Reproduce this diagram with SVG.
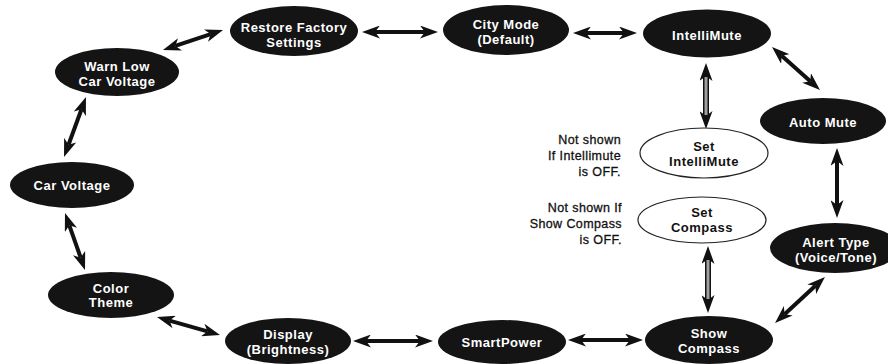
<svg xmlns="http://www.w3.org/2000/svg" width="888" height="364" viewBox="0 0 888 364">
<defs>
<style>
.node ellipse{fill:#141414;}
.node text{fill:#fff;font-family:"Liberation Sans",Arial,sans-serif;font-weight:bold;font-size:13px;letter-spacing:0.5px;text-anchor:middle;}
.opt ellipse{fill:#fff;stroke:#222;stroke-width:1.2;}
.opt text{fill:#111;font-family:"Liberation Sans",Arial,sans-serif;font-weight:bold;font-size:13px;letter-spacing:0.5px;text-anchor:middle;}
.note{fill:#111;stroke:#111;stroke-width:0.3;font-family:"Liberation Sans",Arial,sans-serif;font-size:12.5px;letter-spacing:0.4px;text-anchor:end;}
.c{stroke:#111;stroke-width:4;fill:none;marker-start:url(#ah);marker-end:url(#ah);}
.cg{stroke:#111;stroke-width:6;fill:none;marker-start:url(#ah);marker-end:url(#ah);}
.cgi{stroke:#a0a0a0;stroke-width:3;fill:none;}
</style>
<marker id="ah" viewBox="0 0 18 13" refX="5" refY="6.5" markerWidth="18" markerHeight="13" markerUnits="userSpaceOnUse" orient="auto-start-reverse">
<path d="M0,0 L18,6.5 L0,13 L5,6.5 z" fill="#111"/>
</marker>
</defs>

<g id="connectors">
<line class="c" x1="175.3" y1="45.9" x2="210.7" y2="34.1"/>
<line class="c" x1="375" y1="32" x2="425" y2="32"/>
<line class="c" x1="586" y1="33" x2="624" y2="33"/>
<line class="c" x1="781.7" y1="55.7" x2="810.3" y2="81.3"/>
<line class="cg" x1="706" y1="76" x2="706" y2="116"/>
<line class="cgi" x1="706" y1="77" x2="706" y2="115"/>
<line class="c" x1="837" y1="161" x2="837" y2="205"/>
<line class="c" x1="815.4" y1="285.8" x2="784.6" y2="314.2"/>
<line class="cg" x1="708" y1="259" x2="708" y2="300"/>
<line class="cgi" x1="708" y1="260" x2="708" y2="299"/>
<line class="c" x1="581" y1="340" x2="630" y2="340"/>
<line class="c" x1="366" y1="341" x2="420" y2="341"/>
<line class="c" x1="169.5" y1="320.6" x2="207.5" y2="331.4"/>
<line class="c" x1="69.3" y1="225.3" x2="80.7" y2="257.7"/>
<line class="c" x1="81.5" y1="109.2" x2="68.5" y2="144.8"/>
</g>

<g id="restore" class="node"><ellipse cx="294" cy="31" rx="64" ry="25"/><text x="294" y="31.5">Restore Factory</text><text x="294" y="46.5">Settings</text></g>
<g id="warnlow" class="node"><ellipse cx="117" cy="72" rx="62" ry="24"/><text x="117" y="70.5">Warn Low</text><text x="117" y="85.5">Car Voltage</text></g>
<g id="citymode" class="node"><ellipse cx="506" cy="30" rx="63" ry="25"/><text x="506" y="28.5">City Mode</text><text x="506" y="44">(Default)</text></g>
<g id="intellimute" class="node"><ellipse cx="707" cy="33.5" rx="64" ry="24"/><text x="707" y="39.5">IntelliMute</text></g>
<g id="automute" class="node"><ellipse cx="823" cy="121" rx="63" ry="23"/><text x="823" y="126.5">Auto Mute</text></g>
<g id="alerttype" class="node"><ellipse cx="835" cy="248" rx="65" ry="25"/><text x="836" y="246.5">Alert Type</text><text x="836" y="261.5">(Voice/Tone)</text></g>
<g id="showcompass" class="node"><ellipse cx="709" cy="340" rx="64" ry="24"/><text x="709" y="337.5">Show</text><text x="709" y="352.5">Compass</text></g>
<g id="smartpower" class="node"><ellipse cx="502" cy="342" rx="64" ry="22"/><text x="502" y="347">SmartPower</text></g>
<g id="display" class="node"><ellipse cx="288" cy="341" rx="63" ry="23"/><text x="288" y="338.5">Display</text><text x="288" y="353.5">(Brightness)</text></g>
<g id="colortheme" class="node"><ellipse cx="111" cy="295" rx="63" ry="23"/><text x="111" y="292.5">Color</text><text x="111" y="307">Theme</text></g>
<g id="carvoltage" class="node"><ellipse cx="72" cy="185" rx="62" ry="23"/><text x="72" y="190">Car Voltage</text></g>
<g id="setintellimute" class="opt"><ellipse cx="704" cy="153" rx="64" ry="25"/><text x="704" y="151">Set</text><text x="704" y="166">IntelliMute</text></g>
<g id="setcompass" class="opt"><ellipse cx="702" cy="220" rx="64" ry="23"/><text x="702" y="216.5">Set</text><text x="702" y="231.5">Compass</text></g>

<g id="notes">
<text class="note" x="621" y="143.5">Not shown</text>
<text class="note" x="621" y="159.5">If Intellimute</text>
<text class="note" x="621" y="175.5">is OFF.</text>
<text class="note" x="622" y="212">Not shown If</text>
<text class="note" x="622" y="228">Show Compass</text>
<text class="note" x="622" y="244">is OFF.</text>
</g>
</svg>
